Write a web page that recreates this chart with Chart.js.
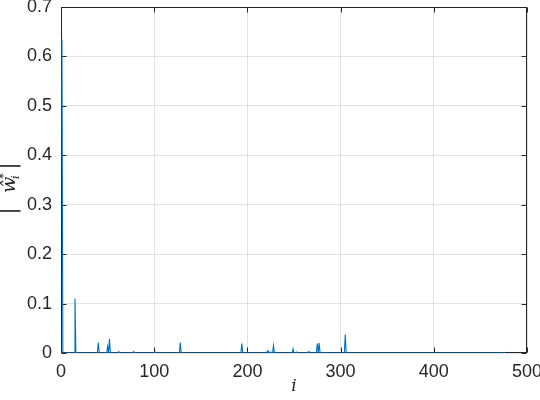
<!DOCTYPE html>
<html>
<head>
<meta charset="utf-8">
<script src="https://cdn.jsdelivr.net/npm/chart.js@4.4.1/dist/chart.umd.min.js"></script>
<style>
  html, body { margin: 0; padding: 0; background: #fff; }
  #wrap { width: 540px; height: 400px; }
</style>
</head>
<body>
<div id="wrap"><canvas id="c" width="540" height="400"></canvas></div>
<script>
// ---- data ----
const seriesLength = 476;                 // number of coefficients i = 1..476
const spikeIndices = [1, 15, 40, 50, 52, 62, 78, 101, 128, 194, 222, 225, 228, 249, 253, 266, 275, 277, 305, 476];
const spikeValues  = [0.635, 0.11, 0.021, 0.013, 0.029, 0.003, 0.003, 0.002, 0.021, 0.019, 0.005, 0.002, 0.015, 0.0085, 0.002, 0.003, 0.019, 0.02, 0.0375, 0.002];
const xTickLabels = ['0', '100', '200', '300', '400', '500'];
const yTickLabels = ['0', '0.1', '0.2', '0.3', '0.4', '0.5', '0.6', '0.7'];
const xTitle = 'i';
const yTitleParts = ['|', 'ŵ', '*', 'i', '|'];

// build the point table (all other coefficients read as zero)
const points = [];
for (let i = 1; i <= seriesLength; i++) points.push({ x: i, y: 0 });
spikeIndices.forEach((idx, k) => { points[idx - 1].y = spikeValues[k]; });

const AX = '#262626';
const FONT = '"Liberation Sans", Arial, Helvetica, sans-serif';
const SERIF = '"DejaVu Serif", "Liberation Serif", serif';

const boxPlugin = {
  id: 'matlabBox',
  beforeDatasetsDraw(chart) {
    const { ctx, chartArea: a, scales } = chart;
    ctx.save();
    ctx.strokeStyle = AX;
    ctx.lineWidth = 1;
    const L = Math.round(a.left) + 0.5, R = Math.round(a.right) - 0.5;
    const T = Math.round(a.top) + 0.5, B = Math.round(a.bottom) - 0.5;
    ctx.strokeRect(L, T, R - L, B - T);
    const tl = 5;
    ctx.beginPath();
    scales.x.ticks.forEach(t => {
      const px = Math.round(scales.x.getPixelForValue(t.value)) + 0.5;
      ctx.moveTo(px, B); ctx.lineTo(px, B - tl);
      ctx.moveTo(px, T); ctx.lineTo(px, T + tl);
    });
    scales.y.ticks.forEach(t => {
      const py = Math.round(scales.y.getPixelForValue(t.value)) + 0.5;
      ctx.moveTo(L, py); ctx.lineTo(L + tl, py);
      ctx.moveTo(R, py); ctx.lineTo(R - tl, py);
    });
    ctx.stroke();
    ctx.restore();
  },
  afterDraw(chart) {
    // y-axis title |ŵ*_i| drawn as real text with super/subscript (rotated)
    const { ctx, chartArea: a } = chart;
    const c = (a.top + a.bottom) / 2 + 9;   // label centre (screen y)
    ctx.save();
    ctx.fillStyle = AX;
    ctx.rotate(-Math.PI / 2);               // local x = -screenY, local y = screenX
    ctx.textBaseline = 'alphabetic';
    ctx.textAlign = 'center';
    ctx.font = '21px ' + SERIF;
    ctx.fillText(yTitleParts[0], -(c + 22), 15);
    ctx.fillText(yTitleParts[4], -(c - 23), 15);
    ctx.textAlign = 'left';
    ctx.font = 'italic 19px ' + SERIF;
    ctx.fillText(yTitleParts[1], -(c + 4), 15);
    ctx.font = '12px ' + SERIF;
    ctx.fillText(yTitleParts[2], -(c - 10), 8);
    ctx.font = 'italic 11px ' + SERIF;
    ctx.fillText(yTitleParts[3], -(c - 10), 19);
    ctx.restore();
  }
};

new Chart(document.getElementById('c'), {
  type: 'line',
  data: {
    datasets: [{
      data: points,
      borderColor: '#0072BD',
      borderWidth: 1.1,
      pointRadius: 0,
      tension: 0,
      fill: false
    }]
  },
  options: {
    responsive: false,
    animation: false,
    devicePixelRatio: 1,
    parsing: false,
    layout: { padding: { top: 7, right: 13, left: 0, bottom: 0 } },
    plugins: { legend: { display: false }, tooltip: { enabled: false } },
    scales: {
      x: {
        type: 'linear',
        min: 0, max: 500,
        afterBuildTicks(s) { s.ticks = xTickLabels.map(v => ({ value: +v })); },
        ticks: {
          color: AX, font: { family: FONT, size: 18 }, padding: 8,
          maxRotation: 0,
          callback: (v, k) => xTickLabels[k]
        },
        grid: { color: 'rgba(38,38,38,0.13)', drawTicks: false, lineWidth: 1 },
        border: { display: false },
        title: { display: true, text: xTitle, color: AX,
                 font: { family: SERIF, size: 17, style: 'italic' },
                 padding: { top: 0, bottom: 3 } },
        afterFit(s) { s.height = 47; s.paddingLeft = 0; s.paddingRight = 0; }
      },
      y: {
        type: 'linear',
        min: 0, max: 0.7,
        afterBuildTicks(s) { s.ticks = yTickLabels.map(v => ({ value: +v })); },
        ticks: {
          color: AX, font: { family: FONT, size: 18 }, padding: 9,
          callback: (v, k) => yTickLabels[k]
        },
        grid: { color: 'rgba(38,38,38,0.13)', drawTicks: false, lineWidth: 1 },
        border: { display: false },
        afterFit(s) { s.width = 61; s.paddingTop = 0; s.paddingBottom = 0; }
      }
    }
  },
  plugins: [boxPlugin]
});
</script>
</body>
</html>
